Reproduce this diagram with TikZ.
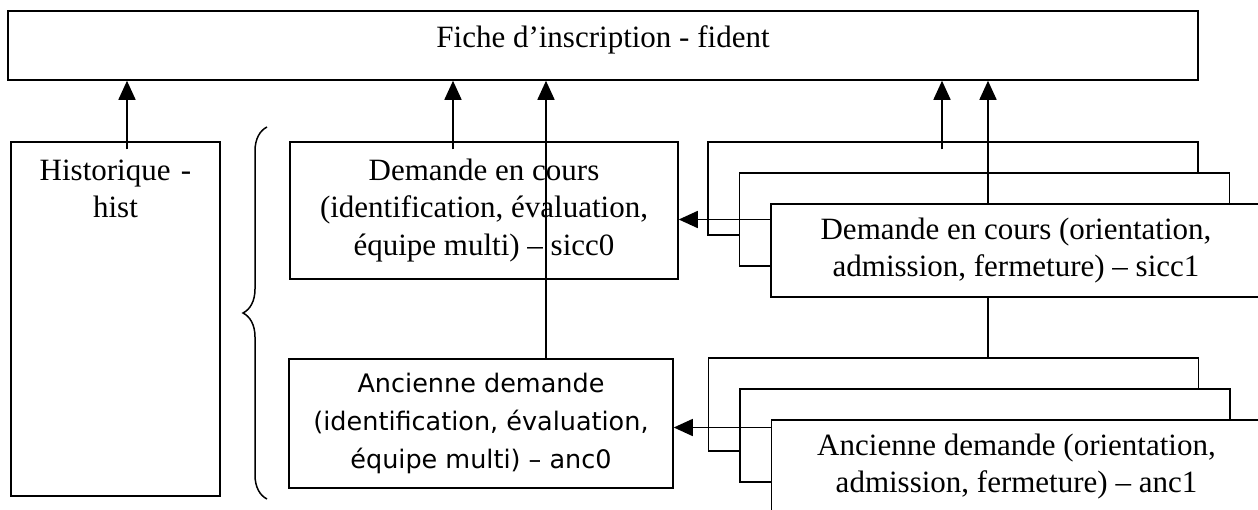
\documentclass[tikz,border=0pt]{standalone}
\usepackage{fontspec}
\setmainfont{Liberation Serif}
\newfontfamily\verdana{DejaVu Sans}
\usetikzlibrary{arrows.meta,calc,decorations.pathreplacing}
\newcommand{\pas}{31}

\begin{document}
\begin{tikzpicture}[x=1pt,y=-1pt,line width=1.5pt,
    boite/.style={draw,rectangle,inner sep=0pt,align=center,fill=white,
      font=\fontsize{31}{37.5}\selectfont},
    boitev/.style={boite,font=\verdana\fontsize{25.5}{38}\selectfont},
    pile/.style={boite,minimum width=490pt,minimum height=93pt},
    fleche/.style={-{Triangle[length=19pt,width=17pt]}}]
  \useasboundingbox (0,0) rectangle (1258,509);

  \node[boite,minimum width=1190pt,text height=36pt,text depth=33pt] (fident) at (603,45.5) {Fiche d’inscription - fident};
  \node[boite,minimum width=209pt,text width=190pt,text height=38pt,text depth=316pt] (hist) at (115.5,319) {Historique -\\hist};

  \draw[decorate,decoration={brace,amplitude=24pt}] (267,499) -- (267,127);

  \node[boite,minimum width=388pt,minimum height=137pt] (sicc0) at (484,210.5) {Demande en cours\\(identification, évaluation,\\équipe multi) – sicc0};
  \node[boitev,minimum width=384pt,minimum height=129pt] (anc0) at (481,423.5) {Ancienne demande\\(identification, évaluation,\\équipe multi) – anc0};

  % piles sicc1 et anc1
  \node[pile] (siccA) at (953,188.5) {};
  \node[pile] (siccB) at ($(siccA.center)+(31.5,\pas)$) {};
  \node[pile] (ancA)  at (953.5,404.5) {};
  \node[pile] (ancB)  at ($(ancA.center)+(31.5,\pas)$) {};
  \node[pile] (ancC)  at ($(ancB.center)+(31.5,\pas)$) {Ancienne demande (orientation,\\admission, fermeture) – anc1};

  \draw[fleche] ([xshift=11.5pt,yshift=-8pt]hist.north) coordinate (h1) -- (h1 |- fident.south);
  \draw[fleche] ([xshift=-31pt,yshift=-8pt]sicc0.north) coordinate (h2) -- (h2 |- fident.south);
  \draw[fleche] ([xshift=65pt]anc0.north) coordinate (h3) -- (h3 |- fident.south);
  \draw[fleche] ([xshift=-11pt,yshift=-8pt]siccA.north) coordinate (h4) -- (h4 |- fident.south);
  \draw[fleche] ([xshift=34.5pt]ancA.north) coordinate (h5) -- (h5 |- fident.south);

  \node[pile] (siccC) at ($(siccB.center)+(31.5,\pas)$) {Demande en cours (orientation,\\admission, fermeture) – sicc1};

  \draw[fleche] ([yshift=31pt]siccC.west) coordinate (g1) -- (g1 -| sicc0.east);
  \draw[fleche] ([yshift=39pt]ancC.west) coordinate (g2) -- (g2 -| anc0.east);

\end{tikzpicture}
\end{document}
